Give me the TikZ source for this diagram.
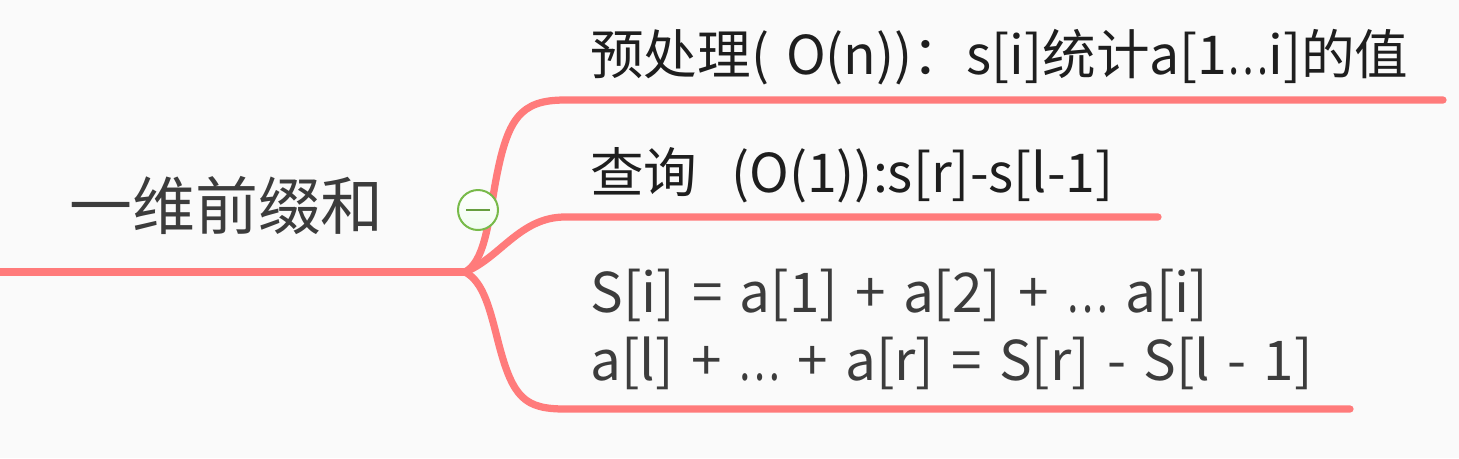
\documentclass[tikz,border=0pt]{standalone}
\usepackage{fontspec}
\setmainfont{Noto Sans CJK SC}[WordSpace=1.4]
\newfontfamily\formfont{Noto Sans CJK SC}[WordSpace=1.4]
\newcommand{\tdots}{\scalebox{0.72}[1]{…}}
\definecolor{branch}{HTML}{FF7B7B}
\definecolor{ttl}{HTML}{3C3C3C}
\definecolor{dark}{HTML}{1E1E1E}
\definecolor{grn}{HTML}{78BA4A}
\begin{document}
\begin{tikzpicture}[x=0.02cm,y=-0.02cm,
  link/.style={draw=branch,line width=0.145cm,line cap=round},
  topic/.style={anchor=base west,inner sep=0pt,text=dark,font=\fontsize{30.5pt}{36pt}\selectfont},
  formula/.style={anchor=base west,inner sep=0pt,text=ttl,align=left,font=\formfont\fontsize{31.2pt}{38.2pt}\selectfont},
  title/.style={anchor=base west,inner sep=0pt,text=ttl,font=\fontsize{35.8pt}{40pt}\selectfont}]
\fill[white!98!black] (0,0) rectangle (1459,458);
\useasboundingbox (0,0) rectangle (1459,458);
% nodes
\node[title] (root) at (69,229) {一维前缀和};
\node[topic] (t1) at (590,74) {预处理( O(n))：s[i]统计a[1\tdots i]的值};
\node[topic] (t2) at (590,192) {查询\ \ (O(1)):s[r]-s[l-1]};
\node[formula] (t3) at (590,380) {S[i] = a[1] + a[2] + \tdots{} a[i]\\a[l] + \tdots{} + a[r] = S[r] - S[l - 1]};
% connector points
\coordinate (L) at (-10,272);
\coordinate (J) at (465,272);
\coordinate (e1) at (1443,100);
\coordinate (e2) at (1158,217);
\coordinate (e3) at (1350,409);
% branches
\draw[link] (L) -- (J);
\draw[link] (J) .. controls (484,262) and (488,225) .. (495,185)
  .. controls (507,118) and (520,100) .. (565,100) -- (e1);
\draw[link] (J) .. controls (500,258) and (520,217) .. (565,217) -- (e2);
\draw[link] (J) .. controls (484,282) and (490,310) .. (499,345)
  .. controls (513,398) and (525,409) .. (565,409) -- (e3);
% collapse button
\node[circle,draw=grn,line width=0.04cm,minimum size=0.8cm,inner sep=0pt,
  top color=white,bottom color=black!14!green!6!white] (btn) at (478,210) {};
\draw[grn!85!black,line width=0.05cm] ([xshift=-0.24cm]btn.center) -- ([xshift=0.24cm]btn.center);
\end{tikzpicture}
\end{document}
